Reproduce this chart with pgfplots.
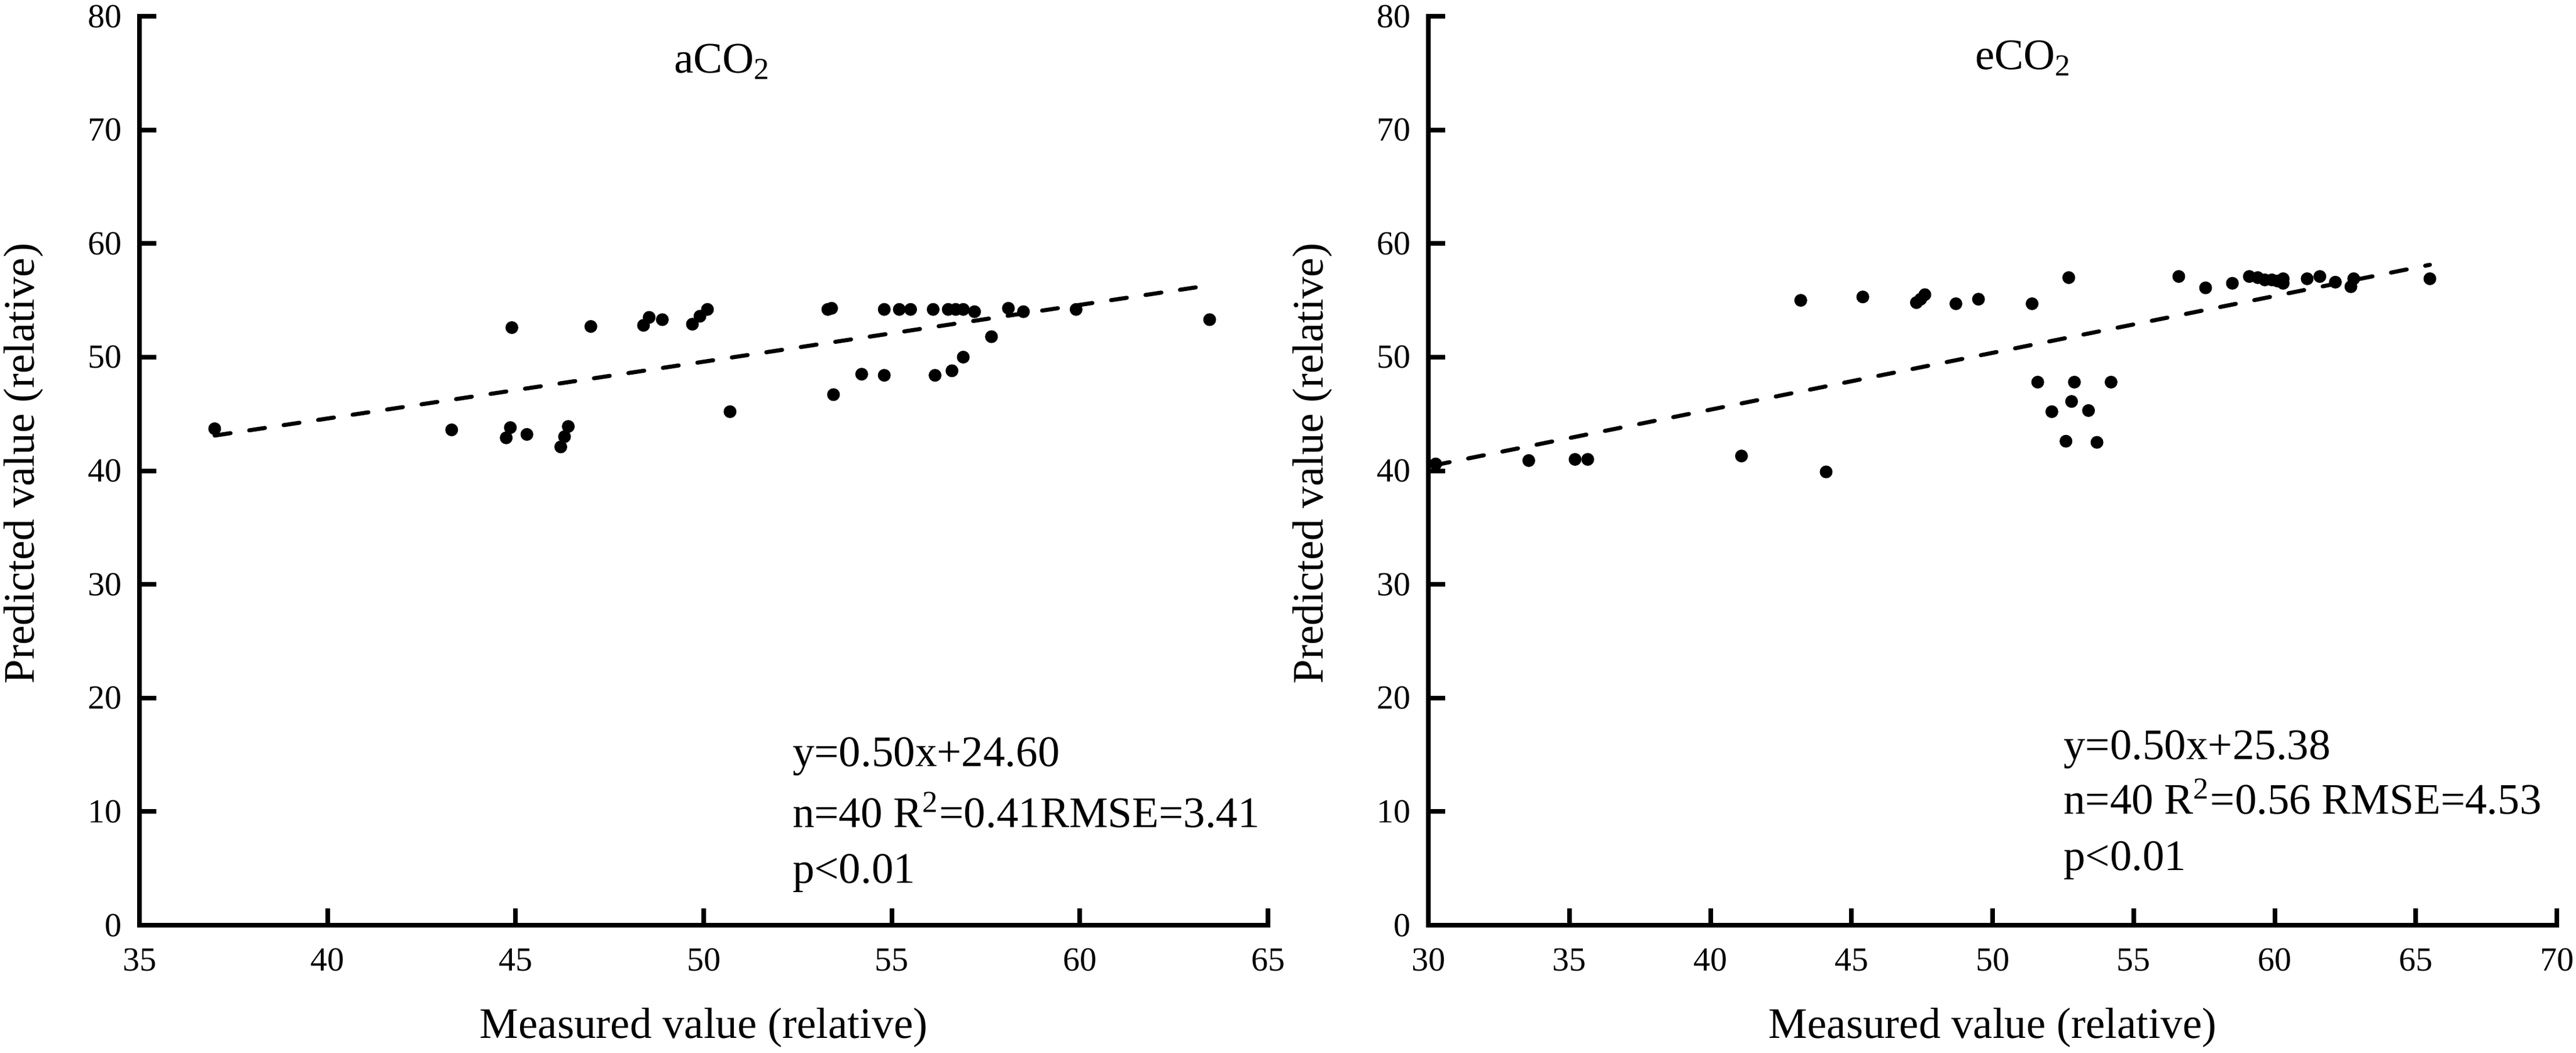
\documentclass[border=0pt]{standalone}
\usepackage{fontspec}
\setmainfont{Liberation Serif}
\usepackage{pgfplots}
\pgfplotsset{compat=1.18}
\tikzset{ann/.style={font=\fontsize{15}{18}\selectfont, anchor=base west, inner sep=0pt}}
\pgfplotsset{
  myax/.style={
    scale only axis, width=388.4pt, height=313pt,
    axis lines=left, axis line style={-, line width=1.6pt, line cap=rect},
    enlargelimits=false, clip=false,
    ymin=0, ymax=80, ytick={0,10,...,80},
    tick align=inside, major tick length=5.8pt,
    every tick/.style={black, line width=1.6pt},
    /pgf/number format/assume math mode=true,
    ticklabel style={font=\fontsize{11.6}{13}\selectfont},
    xticklabel style={yshift=-4.5pt},
    yticklabel style={xshift=-2.5pt},
    label style={font=\fontsize{15}{18}\selectfont},
    xlabel style={at={(axis description cs:0.5,-0.1125)}, anchor=center},
    ylabel style={at={(axis description cs:-0.103,0.508)}, anchor=center, rotate=0},
    xlabel={Measured value (relative)},
    ylabel={Predicted value (relative)},
  },
  dots/.style={only marks, mark=*, mark size=2pt, black},
  fit/.style={black, line width=1.4pt, dash pattern=on 5.5pt off 6.5pt, line cap=round, mark=none},
}
\begin{document}
\begin{tikzpicture}
\useasboundingbox (0,0) rectangle (886.6pt,362.4pt);
\begin{axis}[myax, at={(48pt,43.8pt)}, anchor=south west,
  xmin=35, xmax=65, xtick={35,40,...,65}]
\addplot[dots] coordinates {
(37.0,43.7) (43.3,43.6) (44.9,52.6) (44.75,42.9) (44.86,43.8) (45.3,43.2)
(46.2,42.1) (46.3,43.0) (46.4,43.9) (47.0,52.7) (48.4,52.8) (48.55,53.5)
(48.9,53.3) (49.7,52.9) (49.9,53.6) (50.1,54.2) (50.7,45.2) (53.3,54.2)
(53.4,54.3) (53.45,46.7) (54.2,48.5) (54.8,54.2) (54.8,48.4) (55.2,54.2)
(55.5,54.2) (56.1,54.2) (56.15,48.4) (56.5,54.2) (56.6,48.8) (56.7,54.2)
(56.9,54.2) (56.9,50.0) (57.2,54.0) (57.65,51.8) (58.1,54.3) (58.5,54.0)
(59.9,54.2) (63.45,53.3)
};
\addplot[fit] coordinates {(37.0,43.1) (63.4,56.3)};
\node[font=\fontsize{15}{18}\selectfont] at (axis cs:50.5,76.0) {aCO\textsubscript{2}};
\node[ann] at (axis cs:52.35,14.0) {y=0.50x+24.60};
\node[ann] at (axis cs:52.35,8.6) {n=40 R\textsuperscript{2}=0.41RMSE=3.41};
\node[ann] at (axis cs:52.35,3.7) {p<0.01};
\end{axis}
\begin{axis}[myax, at={(491.6pt,43.8pt)}, anchor=south west,
  xmin=30, xmax=70, xtick={30,35,...,70}]
\addplot[dots] coordinates {
(30.26,40.6) (33.56,40.9) (35.2,41.0) (35.65,41.0) (41.1,41.3) (43.2,55.0)
(44.1,39.9) (45.4,55.3) (47.3,54.8) (47.45,55.1) (47.6,55.5) (48.7,54.7)
(49.5,55.1) (51.4,54.7) (51.6,47.8) (52.1,45.2) (52.6,42.6) (52.7,57.0)
(52.8,46.1) (52.9,47.8) (53.4,45.3) (53.7,42.5) (54.2,47.8) (56.6,57.1)
(57.55,56.1) (58.5,56.5) (59.1,57.1) (59.4,57.0) (59.65,56.8) (59.9,56.8)
(60.1,56.7) (60.3,56.5) (60.3,56.9) (61.15,56.9) (61.6,57.1) (62.15,56.6)
(62.7,56.2) (62.8,56.9) (65.5,56.9)
};
\addplot[fit] coordinates {(30.2,40.48) (65.5,58.13)};
\node[font=\fontsize{15}{18}\selectfont] at (axis cs:51.1,76.3) {eCO\textsubscript{2}};
\node[ann] at (axis cs:52.5,14.57) {y=0.50x+25.38};
\node[ann] at (axis cs:52.5,9.78) {n=40 R\textsuperscript{2}=0.56 RMSE=4.53};
\node[ann] at (axis cs:52.5,4.83) {p<0.01};
\end{axis}
\end{tikzpicture}
\end{document}
